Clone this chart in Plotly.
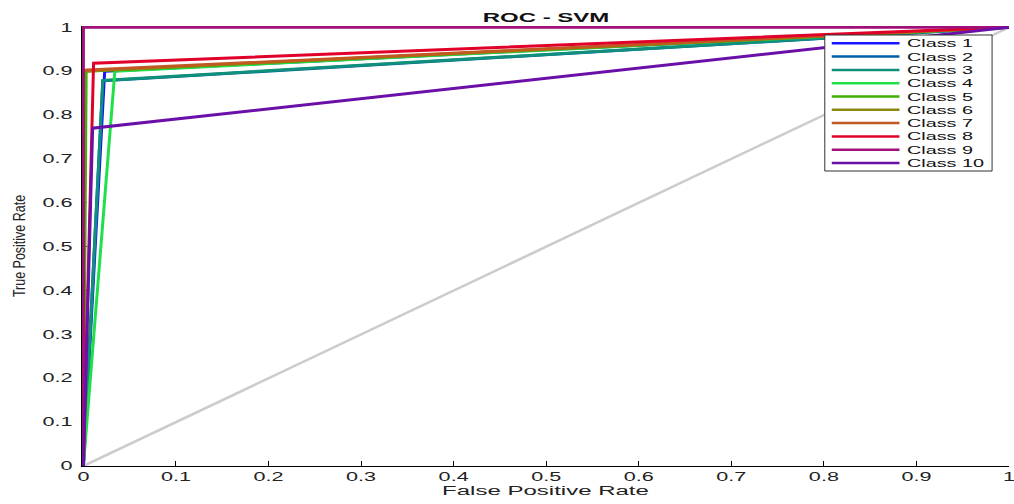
import plotly.graph_objects as go

# ---------------- data ----------------
classes = ["Class 1", "Class 2", "Class 3", "Class 4", "Class 5",
           "Class 6", "Class 7", "Class 8", "Class 9", "Class 10"]
colors = ["#1414ff", "#005fa8", "#10907a", "#20e04a", "#40b000",
          "#8a8a10", "#c05a20", "#e0002a", "#a0107a", "#6a10a8"]
# operating-point of each ROC curve (FPR, TPR); curves go (0,0) -> point -> (1,1)
fpr_point = [0.023, 0.021, 0.021, 0.034, 0.003, 0.0, 0.0, 0.011, 0.0, 0.010]
tpr_point = [0.900, 0.878, 0.879, 0.900, 0.900, 0.900, 0.902, 0.918, 1.0, 0.770]
diag_x = [0, 1]
diag_y = [0, 1]
xticks = [0, 0.1, 0.2, 0.3, 0.4, 0.5, 0.6, 0.7, 0.8, 0.9, 1]
yticks = [0, 0.1, 0.2, 0.3, 0.4, 0.5, 0.6, 0.7, 0.8, 0.9, 1]
tick_text = ["0", "0.1", "0.2", "0.3", "0.4", "0.5", "0.6", "0.7", "0.8", "0.9", "1"]

FONT = "Liberation Sans, Arial, sans-serif"

fig = go.Figure()
fig.add_trace(go.Scatter(x=diag_x, y=diag_y, mode="lines",
                         line=dict(color="#cccccc", width=2.6),
                         showlegend=False, hoverinfo="skip"))
for name, c, fx, ty in zip(classes, colors, fpr_point, tpr_point):
    fig.add_trace(go.Scatter(x=[0, fx, 1], y=[0, ty, 1], mode="lines", name=name,
                             line=dict(color=c, width=3), showlegend=False))

# ---------------- plot geometry ----------------
W, H = 1014, 504
L, R, T, B = 82, 1, 26, 38
xr = [-0.0015, 1.0]
yr = [0.0, 1.003]

fig.update_layout(
    width=W, height=H,
    margin=dict(l=L, r=R, t=T, b=B, pad=0),
    paper_bgcolor="white", plot_bgcolor="white",
    font=dict(family=FONT, color="#222222", size=12),
    title=dict(text="<b>ROC - SVM</b>", x=546 / W, xanchor="center",
               y=1 - 18 / H, yanchor="middle", yref="container",
               font=dict(size=12, color="#111111", family=FONT)),
    showlegend=False,
)
fig.update_xaxes(range=xr, tickvals=xticks, ticktext=tick_text, ticks="inside",
                 ticklen=5, tickcolor="black", showline=True, linecolor="black",
                 linewidth=1, showgrid=False, zeroline=False, layer="below traces",
                 ticklabeloverflow="allow",
                 tickfont=dict(size=12, color="#222222"),
                 title=dict(text="False Positive Rate", standoff=2,
                            font=dict(size=12, color="#222222")))
fig.update_yaxes(range=yr, tickvals=yticks, ticktext=tick_text, ticks="inside",
                 ticklen=5, tickcolor="black", showline=True, linecolor="black",
                 linewidth=1, showgrid=False, zeroline=False, layer="below traces",
                 ticklabelstandoff=6,
                 tickfont=dict(size=12, color="#222222"),
                 title=dict(text="True Positive Rate", standoff=26,
                            font=dict(size=16, color="#222222")))

# ---------------- legend (MATLAB style box) ----------------
pw = W - L - R
ph = H - T - B
def px_x(p):
    return (p - L) / pw
def px_y(p):
    return (H - B - p) / ph

box_l, box_r, box_t, box_b = 828, 996, 35, 171
fig.add_shape(type="rect", xref="paper", yref="paper",
              x0=px_x(box_l), x1=px_x(box_r), y0=px_y(box_b), y1=px_y(box_t),
              line=dict(color="#333333", width=1), fillcolor="white", layer="above")
row0, step = 43.3, 13.3
for i, (name, c) in enumerate(zip(classes, colors)):
    yy = px_y(row0 + i * step)
    fig.add_shape(type="line", xref="paper", yref="paper",
                  x0=px_x(835), x1=px_x(903), y0=yy, y1=yy,
                  line=dict(color=c, width=2.5), layer="above")
    fig.add_annotation(x=px_x(909), y=yy, xref="paper", yref="paper",
                       text=name, showarrow=False, xanchor="left", yanchor="middle",
                       font=dict(size=11, color="#111111", family=FONT))

# horizontally stretched lettering, as in the reference image
post = """
document.body.style.margin='0';
var gd = document.getElementById('{plot_id}');
function stretch(sel, f, keepLeft){
  gd.querySelectorAll(sel).forEach(function(t){
    if (t.getAttribute('data-st')) return;
    var w = 0;
    try { w = t.getComputedTextLength(); } catch(e) { return; }
    if (!w) return;
    t.setAttribute('textLength', (w*f).toFixed(2));
    t.setAttribute('lengthAdjust', 'spacingAndGlyphs');
    t.setAttribute('data-st', '1');
    if (keepLeft) {
      var x = parseFloat(t.getAttribute('x') || '0');
      t.setAttribute('x', (x + (w*f - w)/2).toFixed(2));
    }
  });
}
function run(){
  stretch('.xtick text', 1.8, false);
  stretch('.ytick text', 1.8, false);
  stretch('.gtitle', 2.0, false);
  stretch('.xtitle', 2.0, false);
  stretch('.ytitle', 0.78, false);
  stretch('.annotation-text', 1.8, true);
}
run();
if (gd && gd.on) { gd.on('plotly_afterplot', run); }
setTimeout(run, 30);
"""

fig.write_html("out.html", post_script=post, config={"displayModeBar": False})
